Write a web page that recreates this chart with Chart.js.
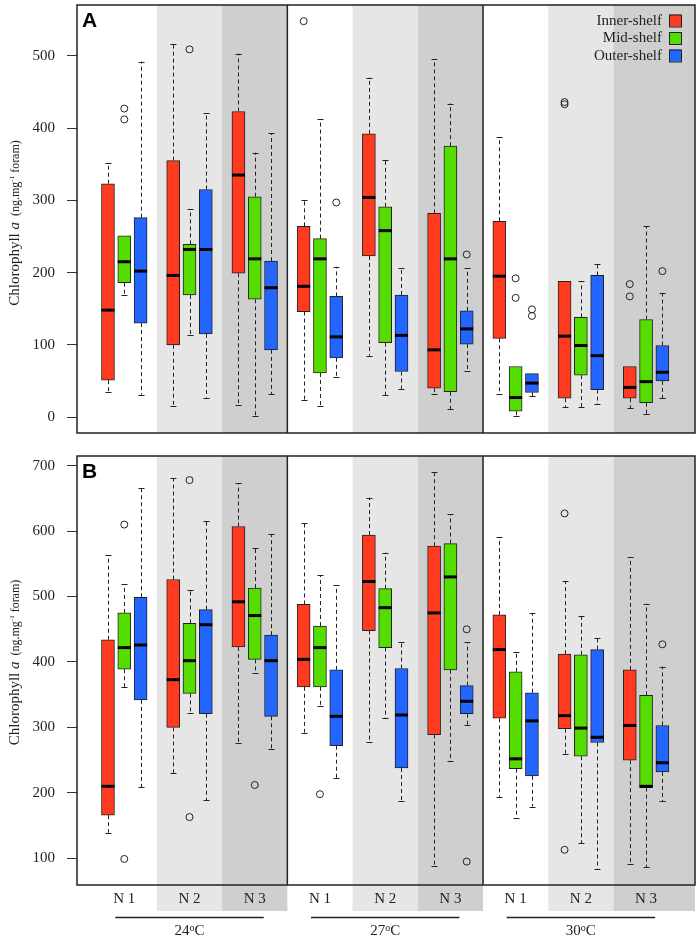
<!DOCTYPE html>
<html>
<head>
<meta charset="utf-8">
<script src="https://cdn.jsdelivr.net/npm/chart.js@4.4.1/dist/chart.umd.min.js"></script>
<style>
  body { margin: 0; background: #fff; }
  #wrap { position: relative; width: 700px; height: 939px; }
  canvas { position: absolute; left: 0; }
</style>
</head>
<body>
<div id="wrap">
  <canvas id="chartA" width="700" height="440" style="top:0"></canvas>
  <canvas id="chartB" width="700" height="499" style="top:440px"></canvas>
</div>
<script>
// categories
const groupLabels = ['N 1', 'N 2', 'N 3', 'N 1', 'N 2', 'N 3', 'N 1', 'N 2', 'N 3'];
const tempLabels = ['24', '27', '30']; // drawn as 24ºC etc
const seriesNames = ['Inner-shelf', 'Mid-shelf', 'Outer-shelf'];
const seriesColors = ['#ff3a1f', '#55dd00', '#2266ff'];

// y ticks
const yTicksA = [0, 100, 200, 300, 400, 500];
const yTicksB = [100, 200, 300, 400, 500, 600, 700];

// Panel A - box stats per group (24 N1..N3, 27 N1..N3, 30 N1..N3)
const innerA_min = [34, 15, 17, 23, 85, 32, 32, 14, 12];
const innerA_q1  = [51, 100, 199, 146, 223, 40, 109, 26, 26];
const innerA_med = [148, 196, 335, 181, 304, 93, 195, 112, 41];
const innerA_q3  = [323, 355, 423, 264, 392, 282, 271, 188, 70];
const innerA_max = [351, 516, 503, 301, 470, 495, 387, 188, 70];
const innerA_out = [[], [], [], [548], [], [], [], [436, 433], [184, 167]];

const midA_min = [169, 114, 1, 15, 30, 11, 1, 14, 4];
const midA_q1  = [186, 169, 163, 61, 103, 35, 8, 58, 20];
const midA_med = [215, 232, 219, 219, 258, 219, 27, 99, 49];
const midA_q3  = [251, 239, 305, 247, 291, 375, 70, 138, 135];
const midA_max = [251, 288, 366, 412, 356, 434, 70, 188, 264];
const midA_out = [[427, 412], [509], [], [], [], [], [192, 165], [], []];

const outerA_min = [31, 27, 32, 55, 39, 64, 29, 18, 26];
const outerA_q1  = [130, 115, 93, 82, 63, 101, 34, 38, 50];
const outerA_med = [202, 232, 179, 111, 113, 122, 47, 85, 62];
const outerA_q3  = [276, 315, 216, 167, 169, 147, 60, 196, 99];
const outerA_max = [492, 421, 393, 208, 207, 206, 60, 212, 172];
const outerA_out = [[], [], [], [297], [], [225], [149, 140], [], [202]];

// Panel B
const innerB_min = [139, 230, 276, 292, 278, 89, 194, 260, 91];
const innerB_q1  = [166, 300, 423, 362, 448, 289, 314, 298, 250];
const innerB_med = [210, 373, 492, 404, 523, 475, 419, 318, 303];
const innerB_q3  = [434, 526, 607, 488, 594, 577, 472, 412, 388];
const innerB_max = [563, 681, 673, 613, 651, 690, 591, 524, 560];
const innerB_out = [[], [], [], [], [], [], [], [627, 113], []];

const midB_min = [362, 322, 383, 333, 314, 248, 162, 123, 86];
const midB_q1  = [389, 352, 404, 362, 422, 388, 237, 256, 208];
const midB_med = [422, 402, 471, 422, 483, 530, 252, 299, 210];
const midB_q3  = [475, 459, 513, 455, 512, 581, 385, 411, 349];
const midB_max = [519, 510, 574, 533, 567, 626, 415, 470, 489];
const midB_out = [[610, 99], [678, 163], [212], [198], [], [], [], [], []];

const outerB_min = [209, 189, 267, 222, 187, 303, 179, 84, 187];
const outerB_q1  = [342, 321, 317, 272, 238, 321, 226, 277, 232];
const outerB_med = [426, 457, 402, 317, 319, 340, 310, 285, 246];
const outerB_q3  = [499, 480, 441, 388, 390, 364, 353, 419, 303];
const outerB_max = [666, 616, 595, 517, 431, 430, 475, 436, 393];
const outerB_out = [[], [], [], [], [], [450, 95], [], [], [427]];

const statsA = [
  { min: innerA_min, q1: innerA_q1, med: innerA_med, q3: innerA_q3, max: innerA_max, out: innerA_out },
  { min: midA_min, q1: midA_q1, med: midA_med, q3: midA_q3, max: midA_max, out: midA_out },
  { min: outerA_min, q1: outerA_q1, med: outerA_med, q3: outerA_q3, max: outerA_max, out: outerA_out }
];
const statsB = [
  { min: innerB_min, q1: innerB_q1, med: innerB_med, q3: innerB_q3, max: innerB_max, out: innerB_out },
  { min: midB_min, q1: midB_q1, med: midB_med, q3: midB_q3, max: midB_max, out: midB_out },
  { min: outerB_min, q1: outerB_q1, med: outerB_med, q3: outerB_q3, max: outerB_max, out: outerB_out }
];

// box positions: 3 boxes per group, one empty slot between groups
const boxPos = (g, s) => 4 * g + s + 1;
const groupCenter = g => 4 * g + 2;

const SERIF = '"Liberation Serif", "Times New Roman", serif';
const INK = '#222';
const BOX_W = 13;

const panelPlugin = {
  id: 'panel',
  beforeDraw(chart, args, o) {
    const { ctx, chartArea: a, scales: { x } } = chart;
    ctx.save();
    groupLabels.forEach((lab, g) => {
      const k = g % 3;
      if (k === 0) return;
      const from = 4 * g;
      const to = g === groupLabels.length - 1 ? x.max : 4 * g + 4;
      const l = x.getPixelForValue(from);
      const r = Math.min(x.getPixelForValue(to), a.right);
      ctx.fillStyle = k === 1 ? '#e6e6e6' : '#cfcfcf';
      ctx.fillRect(l, a.top, r - l, a.bottom - a.top + o.bandExtra);
    });
    ctx.restore();
  },
  beforeDatasetsDraw(chart, args, o) {
    const { ctx, scales: { x, y } } = chart;
    ctx.save();
    ctx.strokeStyle = INK;
    ctx.lineWidth = 1;
    o.stats.forEach((st, s) => st.med.forEach((m, g) => {
      const px = Math.round(x.getPixelForValue(boxPos(g, s))) + 0.5;
      const seg = (v0, v1) => {
        if (v0 === v1) return;
        const y0 = y.getPixelForValue(v0), y1 = y.getPixelForValue(v1);
        ctx.setLineDash([4, 3]);
        ctx.beginPath(); ctx.moveTo(px, y0); ctx.lineTo(px, y1); ctx.stroke();
        ctx.setLineDash([]);
        ctx.beginPath(); ctx.moveTo(px - 3, Math.round(y1) + 0.5); ctx.lineTo(px + 3, Math.round(y1) + 0.5); ctx.stroke();
      };
      seg(st.q3[g], st.max[g]);
      seg(st.q1[g], st.min[g]);
    }));
    ctx.restore();
  },
  afterDatasetsDraw(chart, args, o) {
    const { ctx, scales: { x, y } } = chart;
    ctx.save();
    ctx.strokeStyle = '#000';
    ctx.lineWidth = 3;
    o.stats.forEach((st, s) => st.med.forEach((m, g) => {
      const px = x.getPixelForValue(boxPos(g, s));
      const py = y.getPixelForValue(m);
      ctx.beginPath(); ctx.moveTo(px - BOX_W / 2, py); ctx.lineTo(px + BOX_W / 2, py); ctx.stroke();
    }));
    ctx.restore();
  },
  afterDraw(chart, args, o) {
    const { ctx, chartArea: a, scales: { x } } = chart;
    ctx.save();
    // frame + temperature dividers
    ctx.strokeStyle = INK;
    ctx.lineWidth = 1.5;
    ctx.strokeRect(a.left, a.top, a.right - a.left, a.bottom - a.top);
    [12, 24].forEach(v => {
      const px = x.getPixelForValue(v);
      ctx.beginPath(); ctx.moveTo(px, a.top); ctx.lineTo(px, a.bottom); ctx.stroke();
    });

    // panel letter
    ctx.fillStyle = '#000';
    ctx.font = 'bold 21px "Liberation Sans", Arial, sans-serif';
    ctx.textBaseline = 'middle';
    ctx.textAlign = 'left';
    ctx.fillText(o.letter, a.left + 5, a.top + 16);

    // y title with mixed styles
    const parts = [
      { t: 'Chlorophyll ', f: '15px ' + SERIF, dy: 0 },
      { t: 'a', f: 'italic 15px ' + SERIF, dy: 0 },
      { t: '  (ng.mg', f: '12px ' + SERIF, dy: 0 },
      { t: '-1', f: '7px ' + SERIF, dy: -5 },
      { t: ' foram)', f: '12px ' + SERIF, dy: 0 }
    ];
    let total = 0;
    parts.forEach(p => { ctx.font = p.f; p.w = ctx.measureText(p.t).width; total += p.w; });
    ctx.translate(19, (a.top + a.bottom) / 2 + o.titleShift);
    ctx.rotate(-Math.PI / 2);
    ctx.fillStyle = INK;
    ctx.textBaseline = 'alphabetic';
    let cx = -total / 2;
    parts.forEach(p => { ctx.font = p.f; ctx.fillText(p.t, cx, p.dy); cx += p.w; });
    ctx.setTransform(1, 0, 0, 1, 0, 0);

    // legend
    if (o.legend) {
      ctx.font = '15px ' + SERIF;
      ctx.textAlign = 'right';
      ctx.textBaseline = 'middle';
      seriesNames.forEach((name, s) => {
        const ly = a.top + 16 + s * 17.5;
        ctx.fillStyle = INK;
        ctx.fillText(name, a.right - 33, ly);
        ctx.fillStyle = seriesColors[s];
        ctx.fillRect(a.right - 26, ly - 6.5, 12, 12);
        ctx.strokeStyle = INK;
        ctx.lineWidth = 1;
        ctx.strokeRect(a.right - 25.5, ly - 6, 12, 12);
      });
    }

    // temperature groups under the axis
    if (o.temps) {
      tempLabels.forEach((t, i) => {
        const c = x.getPixelForValue(groupCenter(3 * i + 1));
        const half = 4.55 * (x.getPixelForValue(1) - x.getPixelForValue(0));
        const ly = a.bottom + 32.5;
        ctx.strokeStyle = INK;
        ctx.lineWidth = 1.3;
        ctx.beginPath(); ctx.moveTo(c - half, ly); ctx.lineTo(c + half, ly); ctx.stroke();
        ctx.fillStyle = INK;
        ctx.textBaseline = 'alphabetic';
        ctx.textAlign = 'left';
        ctx.font = '15px ' + SERIF;
        const w1 = ctx.measureText(t).width, w3 = ctx.measureText('C').width;
        ctx.font = '10px ' + SERIF;
        const w2 = ctx.measureText('o').width;
        const tx = c - (w1 + w2 + w3) / 2, ty = a.bottom + 50;
        ctx.font = '15px ' + SERIF;
        ctx.fillText(t, tx, ty);
        ctx.font = '10px ' + SERIF;
        ctx.fillText('o', tx + w1, ty - 4);
        ctx.font = '15px ' + SERIF;
        ctx.fillText('C', tx + w1 + w2, ty);
      });
    }
    ctx.restore();
  }
};

function makePanel(id, stats, yMin, yMax, yTicks, cfg) {
  const boxSets = stats.map((st, s) => ({
    type: 'bar',
    label: seriesNames[s],
    data: st.q1.map((q, g) => ({ x: boxPos(g, s), y: [q, st.q3[g]] })),
    backgroundColor: seriesColors[s],
    borderColor: INK,
    borderWidth: 1,
    borderSkipped: false,
    grouped: false,
    barThickness: BOX_W,
    maxBarThickness: BOX_W,
    order: 2
  }));
  const outSets = stats.map((st, s) => ({
    type: 'scatter',
    label: seriesNames[s] + ' outliers',
    data: st.out.flatMap((arr, g) => arr.map(v => ({ x: boxPos(g, s), y: v }))),
    pointStyle: 'circle',
    pointRadius: 3.5,
    borderColor: INK,
    borderWidth: 1,
    backgroundColor: 'rgba(0,0,0,0)',
    order: 1
  }));

  return new Chart(document.getElementById(id), {
    type: 'bar',
    data: { datasets: [...boxSets, ...outSets] },
    options: {
      responsive: false,
      devicePixelRatio: 1,
      animation: false,
      events: [],
      layout: { padding: cfg.padding },
      plugins: {
        legend: { display: false },
        tooltip: { enabled: false },
        panel: {
          stats: stats,
          letter: cfg.letter,
          legend: cfg.legend,
          temps: cfg.temps,
          bandExtra: cfg.bandExtra,
          titleShift: cfg.titleShift
        }
      },
      scales: {
        x: {
          type: 'linear',
          min: -0.9,
          max: 37,
          offset: false,
          display: cfg.temps,
          grid: { display: false, drawTicks: false, offset: false },
          border: { display: false },
          afterBuildTicks: sc => { sc.ticks = groupLabels.map((l, g) => ({ value: groupCenter(g) })); },
          afterFit: sc => {
            sc.height = cfg.temps ? 54 : 0;
            sc.paddingLeft = 0; sc.paddingRight = 0;
          },
          ticks: {
            autoSkip: false,
            maxRotation: 0,
            padding: 5,
            color: INK,
            font: { family: SERIF, size: 15 },
            callback: (v, i) => groupLabels[i]
          }
        },
        y: {
          type: 'linear',
          min: yMin,
          max: yMax,
          grid: { drawOnChartArea: false, drawTicks: true, tickLength: 10, color: '#333' },
          border: { display: false },
          afterBuildTicks: sc => { sc.ticks = yTicks.map(v => ({ value: v })); },
          afterFit: sc => {
            sc.width = 77;
            sc.paddingTop = 0; sc.paddingBottom = 0;
          },
          ticks: {
            padding: 12,
            color: INK,
            font: { family: SERIF, size: 15 }
          }
        }
      }
    },
    plugins: [panelPlugin]
  });
}

makePanel('chartA', statsA, -22.1, 570.4, yTicksA, {
  padding: { top: 4, right: 3, bottom: 7, left: 0 },
  letter: 'A', legend: true, temps: false, bandExtra: 0, titleShift: 4
});
makePanel('chartB', statsB, 59.2, 714.8, yTicksB, {
  padding: { top: 16, right: 3, bottom: 0, left: 0 },
  letter: 'B', legend: false, temps: true, bandExtra: 26, titleShift: -8
});
</script>
</body>
</html>
